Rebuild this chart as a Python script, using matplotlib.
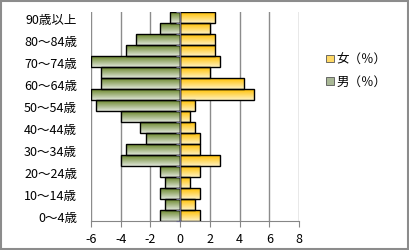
import numpy as np
import matplotlib
matplotlib.use("Agg")
import matplotlib.pyplot as plt
from matplotlib.colors import LinearSegmentedColormap
from matplotlib.patches import Patch, Rectangle

plt.rcParams['font.family'] = ['Noto Sans CJK JP', 'DejaVu Sans']

ages = ["0～4歳", "5～9歳", "10～14歳", "15～19歳", "20～24歳", "25～29歳", "30～34歳",
        "35～39歳", "40～44歳", "45～49歳", "50～54歳", "55～59歳", "60～64歳", "65～69歳",
        "70～74歳", "75～79歳", "80～84歳", "85～89歳", "90歳以上"]
male = [-1.33, -1.0, -1.33, -1.0, -1.33, -4.0, -3.67, -2.33, -2.67, -4.0, -5.67, -6.0,
        -5.33, -5.33, -6.0, -3.67, -3.0, -1.33, -0.67]
female = [1.33, 1.0, 1.33, 0.67, 1.33, 2.67, 1.33, 1.33, 1.0, 0.67, 1.0, 5.0, 4.33, 2.0,
          2.67, 2.33, 2.33, 2.0, 2.33]
xticks = [-6, -4, -2, 0, 2, 4, 6, 8]

fig = plt.figure(figsize=(4.09, 2.51), dpi=100)
fig.patches.append(Rectangle((0.002, 0.004), 0.995, 0.99, transform=fig.transFigure,
                             fill=False, edgecolor='#8c8c8c', linewidth=1.5))
ax = fig.add_axes([0.2225, 0.1155, 0.5085, 0.8325])

y = np.arange(len(ages))
cm_m = LinearSegmentedColormap.from_list('m', ['#e0e6da', '#6a862a'])
cm_f = LinearSegmentedColormap.from_list('f', ['#fff2c0', '#ffbf00'])
grad = np.linspace(0, 1, 64).reshape(-1, 1)

bf = ax.barh(y, female, height=0.92, facecolor='none', edgecolor='black', linewidth=1, zorder=3)
bm = ax.barh(y, male, height=0.92, facecolor='none', edgecolor='black', linewidth=1, zorder=3)
for bars, cm in ((bf, cm_f), (bm, cm_m)):
    for p in bars:
        x0, y0 = p.get_x(), p.get_y()
        w, h = p.get_width(), p.get_height()
        ax.imshow(grad, cmap=cm, origin='lower', aspect='auto',
                  extent=(x0, x0 + w, y0, y0 + h), zorder=2, interpolation='bilinear')

ax.set_xlim(-6, 8)
ax.set_ylim(-0.5, len(ages) - 0.5)
ax.set_xticks(xticks)
ax.set_xticklabels([str(v) for v in xticks], fontsize=9)
ax.set_yticks(y[::2])
ax.set_yticklabels(ages[::2], fontsize=9)
ax.tick_params(axis='y', length=0, pad=10)
ax.tick_params(axis='x', length=4, color='#868686', pad=4)
ax.xaxis.grid(True, color='#8c8c8c', linewidth=1)
ax.set_axisbelow(True)
for s in ['left', 'right', 'top']:
    ax.spines[s].set_visible(False)
ax.spines['bottom'].set_color('#868686')

ax2 = ax.twinx()
ax2.set_ylim(ax.get_ylim())
ax2.spines['right'].set_position(('data', 0))
ax2.spines['right'].set_color('#6a6a8a')
for s in ['left', 'top', 'bottom']:
    ax2.spines[s].set_visible(False)
ax2.set_yticks(np.arange(-0.5, len(ages), 1))
ax2.tick_params(axis='y', direction='in', length=3, color='#6a6a8a', labelright=False)
ax2.set_zorder(4)
ax2.patch.set_visible(False)

handles = [Patch(facecolor='#ffd966', edgecolor='#555555', linewidth=0.6, label='女（％）'),
           Patch(facecolor='#a9b896', edgecolor='#555555', linewidth=0.6, label='男（％）')]
fig.legend(handles=handles, loc='upper left', bbox_to_anchor=(0.77, 0.83), frameon=False,
           fontsize=9, handlelength=0.6, handleheight=0.6, handletextpad=0.2, labelspacing=0.75)

fig.savefig('out.png', dpi=100)
